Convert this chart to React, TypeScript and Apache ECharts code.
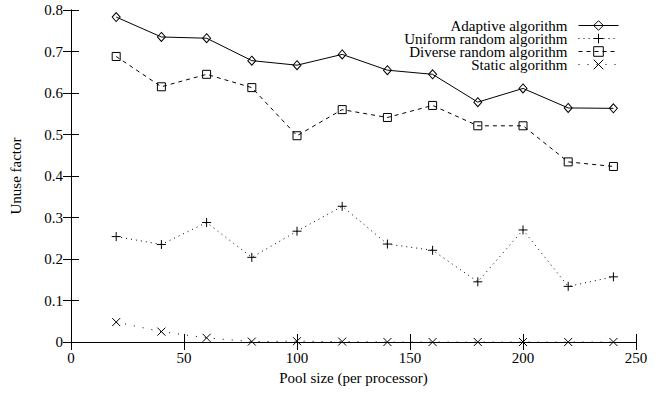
import React, { useEffect, useRef } from "react";
import * as echarts from "echarts";

const poolSizes = [20, 40, 60, 80, 100, 120, 140, 160, 180, 200, 220, 240];
const adaptive = [0.783, 0.735, 0.732, 0.678, 0.667, 0.693, 0.655, 0.645, 0.578, 0.611, 0.564, 0.563];
const uniformRandom = [0.254, 0.235, 0.288, 0.204, 0.267, 0.327, 0.236, 0.221, 0.145, 0.27, 0.134, 0.157];
const diverseRandom = [0.688, 0.615, 0.645, 0.613, 0.497, 0.56, 0.541, 0.57, 0.521, 0.521, 0.434, 0.423];
const staticAlg = [0.048, 0.025, 0.01, 0.001, 0.002, 0.001, 0, 0, 0, 0, 0, 0];
const seriesNames = ["Adaptive algorithm", "Uniform random algorithm", "Diverse random algorithm", "Static algorithm"];

const FONT = "'Liberation Serif', 'Times New Roman', 'DejaVu Serif', serif";

export default function App() {
  const ref = useRef<HTMLDivElement>(null);
  useEffect(() => {
    if (!ref.current) return;
    const chart = echarts.init(ref.current, null, { renderer: "svg" });
    const pts = (vals: number[]) => poolSizes.map((x, i) => [x, vals[i]]);
    const base = {
      type: "line",
      color: "#000",
      itemStyle: { color: "transparent", borderColor: "#000", borderWidth: 1 },
      emphasis: { disabled: true },
    };
    const axisCommon = {
      axisLine: { show: true, lineStyle: { color: "#000", width: 1 } },
      axisTick: { show: true, inside: true, length: 8, lineStyle: { color: "#000" } },
      splitLine: { show: false },
    };
    chart.setOption({
      animation: false,
      backgroundColor: "#fff",
      grid: { left: 71, right: 30, top: 10, bottom: 53 },
      legend: {
        orient: "vertical",
        right: 42,
        top: 13,
        align: "right",
        itemWidth: 40,
        itemHeight: 12,
        itemGap: -2,
        textStyle: { fontFamily: FONT, fontSize: 15, color: "#000", lineHeight: 13, padding: [0, 6, 0, 0] },
        lineStyle: { width: 1 },
        itemStyle: { borderWidth: 1 },
        data: seriesNames,
      },
      xAxis: [
        {
          type: "value", min: 0, max: 250, interval: 50,
          name: "Pool size (per processor)", nameLocation: "middle", nameGap: 28,
          nameTextStyle: { fontFamily: FONT, fontSize: 15, color: "#000" },
          axisLabel: { fontFamily: FONT, fontSize: 15, color: "#000", margin: 8 },
          ...axisCommon,
        },
        {
          type: "value", min: 0, max: 250, interval: 50, position: "top",
          axisLabel: { show: false }, ...axisCommon,
        },
      ],
      yAxis: [
        {
          type: "value", min: 0, max: 0.8, interval: 0.1,
          name: "Unuse factor", nameLocation: "middle", nameGap: 48, nameRotate: 90,
          nameTextStyle: { fontFamily: FONT, fontSize: 15, color: "#000" },
          axisLabel: { fontFamily: FONT, fontSize: 15, color: "#000", margin: 8 },
          ...axisCommon,
        },
        {
          type: "value", min: 0, max: 0.8, interval: 0.1, position: "right",
          axisLabel: { show: false }, ...axisCommon,
        },
      ],
      series: [
        {
          ...base, name: seriesNames[0], data: pts(adaptive),
          symbol: "diamond", symbolSize: [8, 9],
          lineStyle: { color: "#000", width: 1, type: "solid" },
        },
        {
          ...base, name: seriesNames[1], data: pts(uniformRandom),
          symbol: "path://M0,5L10,5M5,0L5,10", symbolSize: 9,
          lineStyle: { color: "#000", width: 1, type: [1, 4] },
        },
        {
          ...base, name: seriesNames[2], data: pts(diverseRandom),
          symbol: "rect", symbolSize: 8,
          lineStyle: { color: "#000", width: 1, type: [4, 4] },
        },
        {
          ...base, name: seriesNames[3], data: pts(staticAlg),
          symbol: "path://M0,0L10,10M10,0L0,10", symbolSize: 8,
          lineStyle: { color: "#000", width: 1, type: [1, 8] },
        },
      ],
    });
    return () => chart.dispose();
  }, []);
  return <div ref={ref} style={{ width: 666, height: 395, position: "absolute", left: 0, top: 0 }} />;
}
